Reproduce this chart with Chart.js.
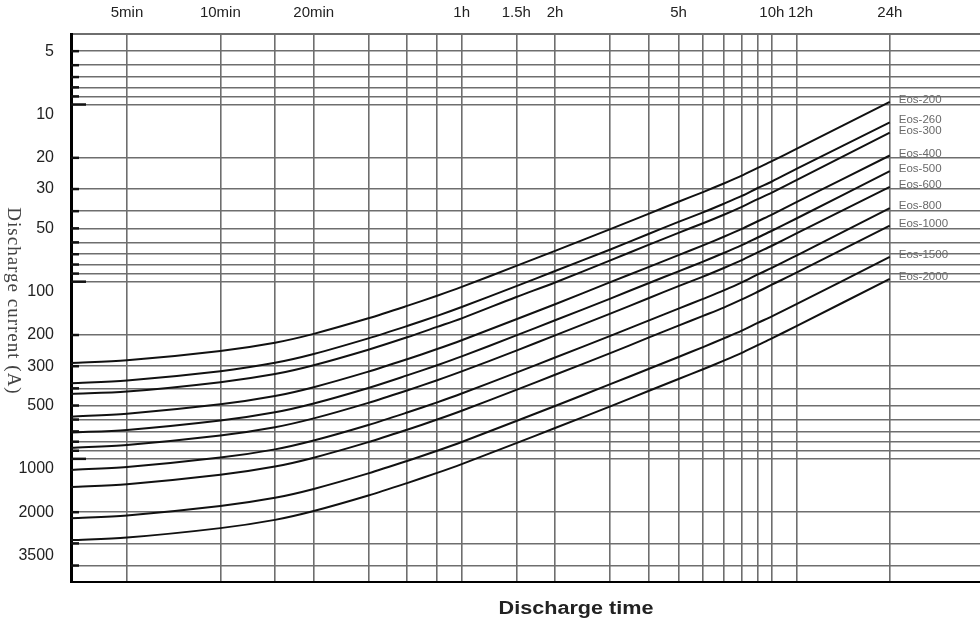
<!DOCTYPE html>
<html>
<head>
<meta charset="utf-8">
<script src="https://cdn.jsdelivr.net/npm/chart.js@4.4.1/dist/chart.umd.min.js"></script>
<style>
  html, body { margin: 0; padding: 0; background: #fff; }
  #wrap { width: 980px; height: 623px; position: relative; }
</style>
</head>
<body>
<div id="wrap"><canvas id="chart"></canvas></div>
<script>
// discharge time, minutes
const times = [3.3, 5, 10, 15, 20, 30, 40, 50, 60, 90, 120, 180, 240, 300, 360, 420, 480, 540, 600, 720, 1440];

// discharge current (A) per model
const eos200  = [288, 278, 246, 221, 197, 161, 137, 120, 107, 81.5, 67, 50.7, 41.4, 35.4, 31.2, 27.9, 25.2, 22.8, 20.9, 17.8, 9.66];
const eos260  = [374, 361, 320, 287, 256, 209, 178, 156, 139, 106, 87, 66, 53.8, 46, 40.6, 36.3, 32.8, 29.6, 27.2, 23.1, 12.6];
const eos300  = [430, 417, 369, 332, 296, 242, 206, 180, 161, 122, 101, 76, 62, 53, 46.8, 41.9, 37.8, 34.2, 31.4, 26.7, 14.4];
const eos400  = [578, 556, 492, 442, 394, 322, 274, 240, 214, 163, 134, 101, 82.8, 70.8, 62.4, 55.8, 50.4, 45.6, 41.8, 35.6, 19.4];
const eos500  = [710, 687, 608, 546, 487, 398, 338, 296, 264, 201, 165, 125, 102, 87.4, 77, 68.9, 62.2, 56.3, 51.6, 44, 23.8];
const eos600  = [866, 834, 738, 663, 591, 483, 411, 360, 321, 245, 201, 152, 124, 106, 93.6, 83.7, 75.6, 68.4, 62.7, 53.4, 29.2];
const eos800  = [1154, 1112, 984, 884, 788, 644, 548, 480, 428, 326, 268, 203, 166, 142, 125, 112, 101, 91, 83.6, 71.2, 38.4];
const eos1000 = [1440, 1390, 1230, 1105, 985, 805, 685, 600, 535, 408, 335, 254, 207, 177, 156, 140, 126, 114, 104, 89, 48.2];
const eos1500 = [2163, 2085, 1845, 1658, 1478, 1208, 1028, 900, 803, 611, 503, 380, 311, 266, 234, 209, 189, 171, 157, 134, 72.5];
const eos2000 = [2873, 2780, 2460, 2210, 1970, 1610, 1370, 1200, 1070, 815, 670, 507, 414, 354, 312, 279, 252, 228, 209, 178, 96.5];

const seriesNames = ['Eos-200', 'Eos-260', 'Eos-300', 'Eos-400', 'Eos-500', 'Eos-600', 'Eos-800', 'Eos-1000', 'Eos-1500', 'Eos-2000'];
const seriesValues = [eos200, eos260, eos300, eos400, eos500, eos600, eos800, eos1000, eos1500, eos2000];

// axes
const timeGrid = [5, 10, 15, 20, 30, 40, 50, 60, 90, 120, 180, 240, 300, 360, 420, 480, 540, 600, 720, 1440];
const timeTicks = [5, 10, 20, 60, 90, 120, 300, 600, 720, 1440];
const timeLabels = ['5min', '10min', '20min', '1h', '1.5h', '2h', '5h', '10h', '  12h', '24h'];
const currentGrid = [5, 6, 7, 8, 9, 10, 20, 30, 40, 50, 60, 70, 80, 90, 100, 200, 300, 400, 500, 600, 700, 800, 900, 1000, 2000, 3000, 4000];
const currentTicks = [5, 10, 20, 30, 50, 100, 200, 300, 500, 1000, 2000, 3500];
const currentMajor = [10, 100, 1000];

const gridColor = '#6e6e6e';
const sans = '"Liberation Sans", Arial, sans-serif';

const decor = {
    id: 'decor',
    afterDraw(chart) {
        const { ctx, chartArea } = chart;
        const x = chart.scales.x;
        const y = chart.scales.y;
        ctx.save();

        // short marks inside the left axis
        ctx.strokeStyle = '#111';
        ctx.lineWidth = 2.5;
        currentGrid.forEach(v => {
            const py = y.getPixelForValue(v);
            const len = currentMajor.includes(v) ? 15 : 8;
            ctx.beginPath();
            ctx.moveTo(chartArea.left, py);
            ctx.lineTo(chartArea.left + len, py);
            ctx.stroke();
        });

        // model names at the end of each curve
        ctx.font = '11.5px ' + sans;
        ctx.fillStyle = '#6a6a6a';
        ctx.textAlign = 'left';
        ctx.textBaseline = 'middle';
        chart.data.datasets.forEach(ds => {
            const last = ds.data[ds.data.length - 1];
            ctx.fillText(ds.label, x.getPixelForValue(last.x) + 9, y.getPixelForValue(last.y) - 2);
        });

        // y title, reads top to bottom
        ctx.save();
        ctx.translate(13, 301);
        ctx.rotate(Math.PI / 2);
        ctx.font = '19px "Liberation Serif", "Times New Roman", serif';
        ctx.letterSpacing = '1px';
        ctx.fillStyle = '#444';
        ctx.textAlign = 'center';
        ctx.textBaseline = 'middle';
        ctx.fillText('Discharge current (A)', 0, 0);
        ctx.restore();

        // x title
        ctx.save();
        ctx.translate(576, 609);
        ctx.scale(1.2, 1);
        ctx.font = 'bold 18px ' + sans;
        ctx.fillStyle = '#222';
        ctx.textAlign = 'center';
        ctx.textBaseline = 'middle';
        ctx.fillText('Discharge time', 0, 0);
        ctx.restore();

        ctx.restore();
    }
};

const ctx = document.getElementById('chart').getContext('2d');
new Chart(ctx, {
    type: 'line',
    data: {
        datasets: seriesValues.map((vals, i) => ({
            label: seriesNames[i],
            data: times.map((t, j) => ({ x: t, y: vals[j] })),
            borderColor: '#111',
            borderWidth: 2,
            pointRadius: 0,
            fill: false,
            tension: 0.3
        }))
    },
    options: {
        responsive: true,
        maintainAspectRatio: false,
        animation: false,
        layout: { padding: 0 },
        plugins: {
            legend: { display: false },
            tooltip: { enabled: false }
        },
        scales: {
            x: {
                type: 'logarithmic',
                position: 'bottom',
                min: 3.3,
                max: 2813,
                afterBuildTicks: s => { s.ticks = timeGrid.map(v => ({ value: v })); },
                afterFit: s => { s.height = 41; },
                ticks: { display: false },
                grid: { color: gridColor, lineWidth: 1.6, drawTicks: false },
                border: { color: '#000', width: 2 }
            },
            x2: {
                type: 'logarithmic',
                position: 'top',
                min: 3.3,
                max: 2813,
                afterBuildTicks: s => { s.ticks = timeTicks.map(v => ({ value: v })); },
                afterFit: s => { s.height = 34; },
                ticks: {
                    autoSkip: false,
                    maxRotation: 0,
                    padding: 12,
                    color: '#222',
                    font: { family: sans, size: 15 },
                    callback: (v, i) => timeLabels[i]
                },
                grid: { display: false, drawTicks: false },
                border: { color: gridColor, width: 2 }
            },
            y: {
                type: 'logarithmic',
                reverse: true,
                min: 4,
                max: 4955,
                afterBuildTicks: s => {
                    s.ticks = currentGrid.concat([3500]).sort((a, b) => a - b).map(v => ({ value: v }));
                },
                afterFit: s => { s.width = 71; },
                ticks: {
                    autoSkip: false,
                    padding: 17,
                    color: '#222',
                    font: { family: sans, size: 16 },
                    // the decade labels sit just under their line in the original
                    callback: v => {
                        if (!currentTicks.includes(v)) return '';
                        return currentMajor.includes(v) ? ['', String(v)] : String(v);
                    }
                },
                grid: {
                    color: c => (c.tick && c.tick.value === 3500) ? 'rgba(0,0,0,0)' : gridColor,
                    lineWidth: 1.6,
                    drawTicks: false
                },
                border: { color: '#000', width: 3 }
            }
        }
    },
    plugins: [decor]
});
</script>
</body>
</html>
